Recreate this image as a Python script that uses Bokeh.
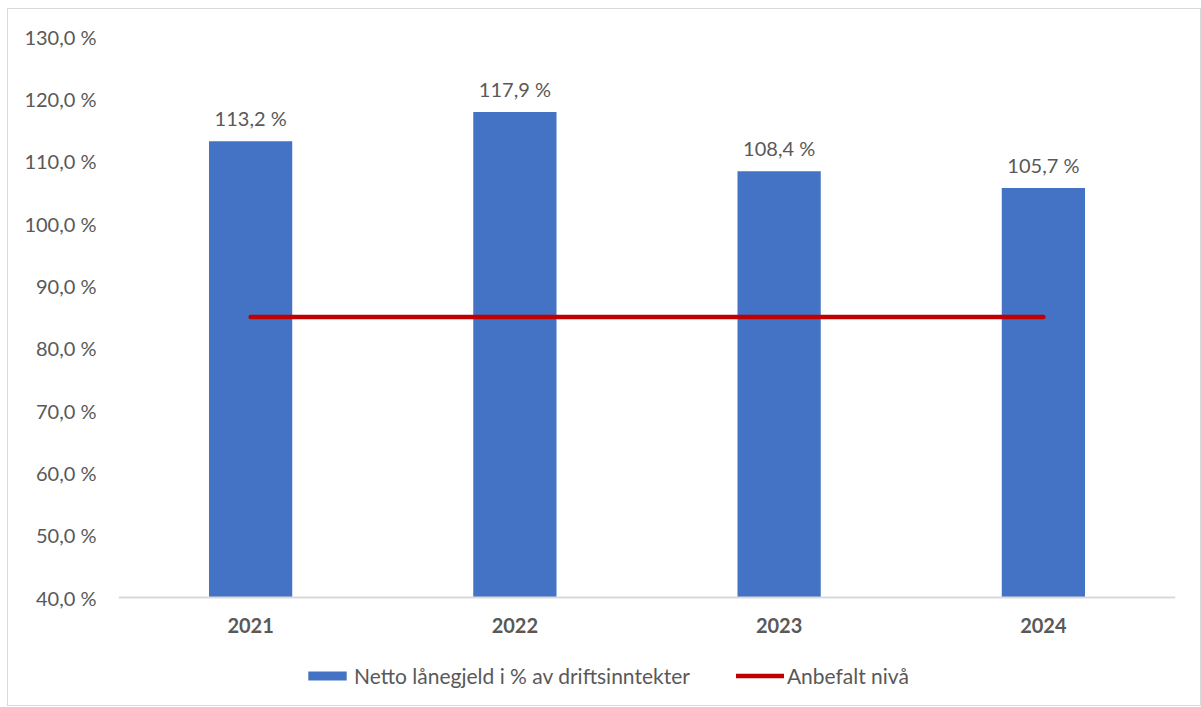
from bokeh.plotting import figure
from bokeh.models import (FactorRange, Range1d, FixedTicker, CustomJSTickFormatter,
                          ColumnDataSource, Legend, LegendItem)
from bokeh.embed import file_html
from bokeh.resources import INLINE
from bokeh.core.properties import value

years = ["2021", "2022", "2023", "2024"]
netto_lanegjeld = [113.2, 117.9, 108.4, 105.7]
anbefalt_niva = [85.0, 85.0, 85.0, 85.0]
y_ticks = [40, 50, 60, 70, 80, 90, 100, 110, 120, 130]

FONT = "Lato"
GREY = "#595959"
FS = "20px"
Y_BASE = 40
Y_TOP = 130
PX_PER_UNIT = 561 / (Y_TOP - Y_BASE)
FRAME_H = 669
Y_LOW = Y_TOP - FRAME_H / PX_PER_UNIT   # extra room below the axis for the legend

labels = [f"{v:.1f}".replace(".", ",") + " %" for v in netto_lanegjeld]
src = ColumnDataSource(dict(x=years, y=netto_lanegjeld, ref=anbefalt_niva, lab=labels))

p = figure(frame_width=1057, frame_height=FRAME_H, x_range=FactorRange(*years, range_padding=0),
           y_range=Range1d(Y_LOW, Y_TOP), output_backend="svg", toolbar_location=None,
           min_border_left=110, min_border_right=25, min_border_top=27, min_border_bottom=0)
p.styles = {"margin-left": "8px", "margin-top": "9px", "outline": "1px solid #D9D9D9"}
p.outline_line_color = None
p.xgrid.visible = False
p.ygrid.visible = False

bars = p.vbar(x="x", top="y", bottom=Y_BASE, width=0.315, source=src,
              fill_color="#4472C4", line_color=None)
line = p.line(x="x", y="ref", source=src, line_color="#C00000", line_width=4.5,
              line_cap="round")
p.text(x="x", y="y", text="lab", source=src, text_align="center", text_baseline="bottom",
       y_offset=-11, text_font=value(FONT), text_font_size=FS, text_color=GREY)

p.yaxis.ticker = FixedTicker(ticks=y_ticks)
p.yaxis.formatter = CustomJSTickFormatter(
    code="return tick.toFixed(1).replace('.', ',') + ' %';")
p.yaxis.axis_line_color = None
p.yaxis.major_tick_line_color = None
p.yaxis.minor_tick_line_color = None
p.yaxis.major_tick_out = 0
p.yaxis.major_label_standoff = 22
p.yaxis.major_label_text_font = FONT
p.yaxis.major_label_text_font_size = FS
p.yaxis.major_label_text_color = GREY

p.xaxis.fixed_location = Y_BASE
p.xaxis.axis_line_color = "#D9D9D9"
p.xaxis.axis_line_width = 2
p.xaxis.major_tick_line_color = None
p.xaxis.major_tick_out = 0
p.xaxis.major_label_standoff = 20
p.xaxis.major_label_text_font = FONT
p.xaxis.major_label_text_font_style = "bold"
p.xaxis.major_label_text_font_size = FS
p.xaxis.major_label_text_color = GREY

legend = Legend(items=[
    LegendItem(label="Netto lånegjeld i % av driftsinntekter", renderers=[bars]),
    LegendItem(label="Anbefalt nivå", renderers=[line]),
], orientation="horizontal", location=(185, 17), border_line_alpha=0,
   background_fill_alpha=0, label_text_font=FONT, label_text_font_size="21px",
   label_text_color=GREY, glyph_width=48, glyph_height=11, label_standoff=3,
   spacing=46, padding=0, margin=0)
p.add_layout(legend, "center")

open("out.html", "w").write(file_html(p, INLINE))
